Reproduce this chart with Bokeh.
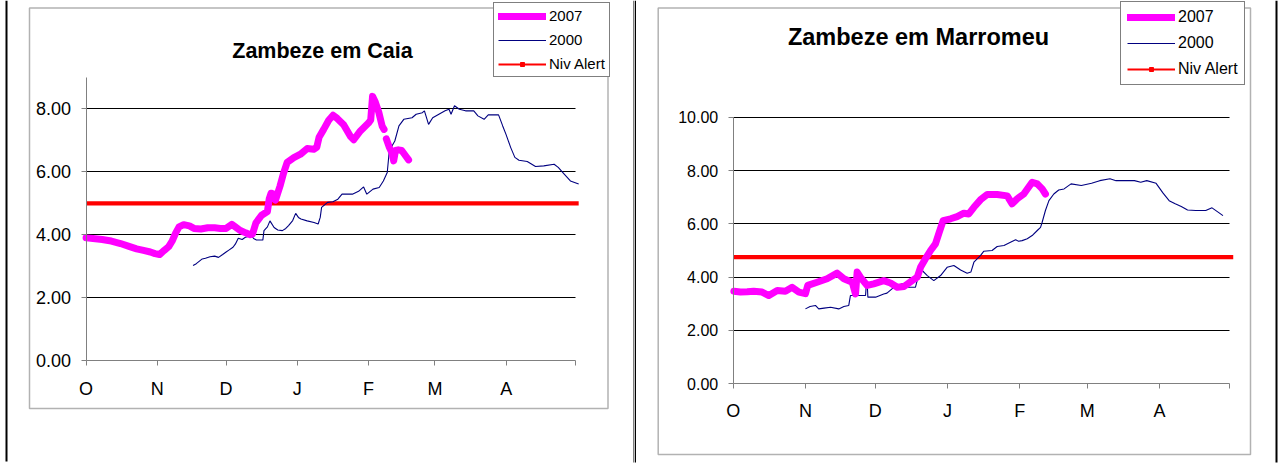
from bokeh.plotting import figure
from bokeh.models import (Range1d, FixedTicker, NumeralTickFormatter, Legend,
                          LegendItem, BoxAnnotation, Label)
from bokeh.layouts import row
from bokeh.embed import file_html
from bokeh.resources import INLINE

nan = float("nan")

# ---------------- data ----------------
month_ticks = [0, 31, 61, 92, 123, 152, 183, 213]
month_labels = ["O", "N", "D", "J", "F", "M", "A", ""]
series_names = ["2007", "2000", "Niv Alert"]

caia_2007_day = [0, 3, 7, 11, 15, 19, 22, 25, 28, 30,
                 32, 34, 36, 37.5, 39, 40.5, 42.5, 45, 47, 50,
                 53, 56, 58.5, 61, 63.5, 65, 67, 69.5, 71.5, 72.5,
                 74, 76.5, 79, 79.8, 80.6, 81.5, 82.5, 84.5, 86, 87.6,
                 90.5, 93.4, 96.3, 99.2, 100.5, 101.5, 103.5, 105.7, 107.6, 109.4,
                 112.2, 115.2, 116.6, 119.5, 123, 124, 124.8, 126, 127.5, 129,
                 129.8, nan, 130.8, 132, 133.3, 134, 134.8, 136, 137.5, 139.5,
                 140.5]
caia_2007_val = [3.90, 3.88, 3.85, 3.80, 3.72, 3.62, 3.55, 3.50, 3.45, 3.40,
                 3.37, 3.50, 3.62, 3.80, 4.05, 4.25, 4.32, 4.28, 4.20, 4.18,
                 4.22, 4.22, 4.20, 4.20, 4.33, 4.25, 4.14, 4.06, 4.00, 4.02,
                 4.38, 4.62, 4.74, 5.15, 5.32, 5.30, 5.10, 5.55, 5.95, 6.30,
                 6.45, 6.56, 6.74, 6.72, 6.78, 7.10, 7.35, 7.64, 7.80, 7.70,
                 7.50, 7.12, 7.02, 7.30, 7.55, 7.65, 8.40, 8.22, 7.90, 7.45,
                 7.35, nan, 7.05, 6.80, 6.60, 6.35, 6.68, 6.70, 6.68, 6.48,
                 6.38]

caia_2000_day = [46.6, 48, 50.6, 52, 54, 56, 57.7, 59.5, 61, 62.2,
                 64, 65, 66.3, 68, 69.4, 72, 73, 74.2, 77, 77.5,
                 79, 80.1, 81.9, 83.5, 85.5, 87, 88.2, 90, 91.3, 92.5,
                 93.6, 96.3, 99.3, 101.1, 102, 102.6, 105.2, 107.5, 109.7, 111.5,
                 116, 118.7, 120.9, 122.3, 125, 127.7, 129.5, 131.2, 132.1, 134.5,
                 136.3, 138.4, 142, 143.8, 146.5, 147.4, 149.2, 151, 153.7, 156.4,
                 158.1, 159, 160.5, 162.6, 165.3, 168.9, 170.7, 173.4, 175.2, 179.7,
                 181.5, 182.9, 185, 186.8, 188.6, 192.2, 195.8, 199.4, 203.9, 205.7,
                 208.3, 211, 214.6]
caia_2000_val = [3.02, 3.08, 3.23, 3.25, 3.30, 3.32, 3.28, 3.37, 3.45, 3.51,
                 3.60, 3.70, 3.89, 3.85, 3.92, 3.97, 3.88, 3.83, 3.83, 4.13,
                 4.25, 4.44, 4.23, 4.15, 4.13, 4.20, 4.29, 4.45, 4.68, 4.55,
                 4.50, 4.44, 4.39, 4.34, 4.55, 4.87, 5.03, 5.05, 5.13, 5.29,
                 5.29, 5.38, 5.52, 5.29, 5.45, 5.50, 5.71, 5.98, 6.67, 6.98,
                 7.46, 7.67, 7.72, 7.83, 7.88, 7.94, 7.51, 7.72, 7.83, 7.94,
                 7.99, 7.83, 8.10, 7.99, 7.94, 7.94, 7.78, 7.67, 7.81, 7.81,
                 7.46, 7.20, 6.77, 6.46, 6.37, 6.33, 6.17, 6.19, 6.24, 6.14,
                 5.93, 5.71, 5.61]

marr_2007_day = [0.3, 3.1, 6, 8.8, 12.4, 15.3, 18.9, 22.4, 25.3, 28.2,
                 31, 32, 36, 40.3, 44.6, 47.5, 51.1, 52.5, 53.2, 54.6,
                 57.5, 60.3, 64.6, 67.5, 70.4, 73.3, 76.8, 79, 80.4, 82.5,
                 84.7, 86.8, 88.2, 90.1, 93.3, 96.1, 99, 101.1, 103.3, 106.1,
                 109, 113.3, 117.6, 119.7, 121.9, 124.7, 128.3, 130.5, 132.6, 134]
marr_2007_val = [3.47, 3.44, 3.45, 3.47, 3.44, 3.31, 3.50, 3.47, 3.62, 3.44,
                 3.38, 3.69, 3.81, 3.94, 4.15, 3.94, 3.81, 3.37, 4.19, 4.00,
                 3.69, 3.75, 3.87, 3.78, 3.62, 3.65, 3.87, 4.00, 4.37, 4.69,
                 5.00, 5.25, 5.62, 6.12, 6.19, 6.27, 6.40, 6.37, 6.62, 6.90,
                 7.10, 7.10, 7.05, 6.75, 6.94, 7.12, 7.56, 7.50, 7.31, 7.12]

marr_2000_day = [31, 33, 35.3, 36.7, 39, 41.8, 45.3, 47.5, 49.6, 50.3,
                 53, 56.8, 57.2, 57.5, 57.8, 61.1, 64.6, 66, 68.9, 72.5,
                 74.7, 78.2, 79.7, 81.1, 83.3, 86.1, 89, 91.8, 94.7, 97.6,
                 100.4, 102, 103.3, 106.1, 107.5, 111.1, 113.3, 116.2, 119, 121.2,
                 122.5, 124, 126.2, 128.3, 130.5, 131.9, 132.6, 134, 135.5, 137.6,
                 139.7, 142, 145, 149.4, 153.8, 157.3, 161.7, 164.3, 172.2, 174.9,
                 177.5, 181.5, 184.5, 187.1, 189.7, 192.3, 195, 198.5, 202.8, 205.5,
                 208.1, 210.2]
marr_2000_val = [2.81, 2.90, 2.94, 2.81, 2.84, 2.87, 2.81, 2.90, 2.94, 3.31,
                 3.31, 3.31, 3.81, 3.81, 3.25, 3.25, 3.37, 3.40, 3.62, 3.75,
                 3.62, 3.62, 4.12, 4.25, 4.06, 3.87, 4.06, 4.37, 4.44, 4.27,
                 4.15, 4.19, 4.56, 4.81, 4.97, 5.00, 5.15, 5.19, 5.31, 5.40,
                 5.35, 5.37, 5.44, 5.56, 5.75, 5.87, 6.06, 6.50, 6.87, 7.12,
                 7.27, 7.31, 7.50, 7.44, 7.52, 7.62, 7.69, 7.62, 7.62, 7.56,
                 7.62, 7.52, 7.15, 6.87, 6.75, 6.65, 6.52, 6.50, 6.50, 6.60,
                 6.44, 6.31]

caia_alert = 5.0
marr_alert = 4.75
alert_days = [0, 214.6]

caia_yticks = [0, 2, 4, 6, 8]
marr_yticks = [0, 2, 4, 6, 8, 10]

# ---------------- drawing ----------------
FONT = "Liberation Sans"
H = 463          # canvas height (page has no margin in Bokeh's template)
PAGE_Y0 = 0


def make_panel(title, d07, v07, d00, v00, alert, yticks, ymax, g):
    W, ox = g["W"], g["ox"]
    ppd = (g["ax_x1"] - g["ax_x0"]) / 213.0
    x0 = -(g["ax_x0"] - ox) / ppd
    ppv = (g["ax_y0"] - g["ax_ytop"]) / ymax
    y0 = -(PAGE_Y0 + H - g["ax_y0"]) / ppv

    def sx(px):
        return px - ox

    def sy(py):
        return PAGE_Y0 + H - py

    p = figure(width=W, height=H, output_backend="svg", toolbar_location=None,
               x_range=Range1d(x0, x0 + W / ppd), y_range=Range1d(y0, y0 + H / ppv),
               min_border=0, min_border_left=0, min_border_right=0,
               min_border_top=0, min_border_bottom=0)
    p.outline_line_color = None
    p.background_fill_color = "white"
    p.border_fill_color = "white"
    p.xgrid.visible = False

    # axes drawn inside the frame at the data origin
    p.xaxis.fixed_location = 0
    p.yaxis.fixed_location = 0
    p.xaxis.bounds = (0, 213)
    p.yaxis.bounds = (0, ymax)
    p.xaxis.ticker = FixedTicker(ticks=month_ticks)
    p.xaxis.major_label_overrides = {t: l for t, l in zip(month_ticks, month_labels)}
    p.xaxis.major_label_standoff = g["xstand"]
    p.xaxis.major_label_text_font_size = g["xfs"]
    p.yaxis.ticker = FixedTicker(ticks=yticks)
    p.yaxis.formatter = NumeralTickFormatter(format="0.00")
    p.yaxis.major_label_standoff = 10
    p.yaxis.major_label_text_font_size = g["yfs"]
    for ax in p.axis:
        ax.axis_line_color = "#808080"
        ax.axis_line_width = 1
        ax.major_tick_line_color = "#808080"
        ax.major_tick_in = 0
        ax.major_tick_out = 5
        ax.minor_tick_line_color = None
        ax.major_label_text_font = FONT
        ax.major_label_text_color = "black"

    # horizontal gridlines between day 0 and the last month boundary
    p.ygrid.ticker = FixedTicker(ticks=[t for t in yticks if t > 0])
    p.ygrid.grid_line_color = "black"
    p.ygrid.grid_line_width = 1
    try:
        p.ygrid.cross_bounds = (0, 213)
    except Exception:
        p.ygrid.visible = False
        gy = [t for t in yticks if t > 0]
        p.segment(x0=[0] * len(gy), x1=[213] * len(gy), y0=gy, y1=gy,
                  line_color="black", line_width=1)

    p.line(alert_days, [alert] * len(alert_days), line_color="#FF0000", line_width=4.3)
    p.line(d00, v00, line_color="#000080", line_width=1.1)
    p.line(d07, v07, line_color="#FF00FF", line_width=7,
           line_cap="round", line_join="round")

    # legend-only glyphs (single undefined point, never drawn in the plot)
    g07 = p.line([nan], [nan], line_color="#FF00FF", line_width=7, line_cap="round")
    g00 = p.line([nan], [nan], line_color="#000080", line_width=1.2)
    gal = p.line([nan], [nan], line_color="#FF0000", line_width=2)
    gam = p.scatter([nan], [nan], marker="square", color="#FF0000", size=4)
    legend = Legend(items=[LegendItem(label=series_names[0], renderers=[g07]),
                           LegendItem(label=series_names[1], renderers=[g00]),
                           LegendItem(label=series_names[2], renderers=[gal, gam])],
                    location=(sx(g["leg_left"]), sy(g["leg_bottom"])),
                    orientation="vertical",
                    border_line_color="black", border_line_width=1,
                    background_fill_color="white", background_fill_alpha=1,
                    padding=g["lpad"], spacing=g["lsp"], margin=0,
                    glyph_width=g["gw"], glyph_height=10,
                    label_height=g["gh"], label_standoff=3,
                    label_text_font=FONT, label_text_font_size=g["lfs"],
                    label_text_color="black")
    p.add_layout(legend)

    p.add_layout(Label(x=sx(g["tx"]), y=sy(g["ty"]), x_units="screen", y_units="screen",
                       text=title, text_font=FONT, text_font_style="bold",
                       text_font_size=g["tfs"], text_align="center",
                       text_baseline="middle", text_color="black"))

    # chart border
    l, r, t, b = g["box"]
    p.add_layout(BoxAnnotation(left=sx(l), right=sx(r), top=sy(t), bottom=sy(b),
                               left_units="screen", right_units="screen",
                               top_units="screen", bottom_units="screen",
                               fill_alpha=0, line_color="black", line_width=1.5,
                               level="underlay"))
    # page frame lines
    for (fl, fr, fb) in g["frames"]:
        p.add_layout(BoxAnnotation(left=sx(fl), right=sx(fr), top=H, bottom=sy(fb),
                                   left_units="screen", right_units="screen",
                                   top_units="screen", bottom_units="screen",
                                   fill_color="black", fill_alpha=1, line_color=None,
                                   level="underlay"))
    return p


geo_caia = dict(W=634, ox=0, ax_x0=85.6, ax_x1=574.5, ax_y0=360, ax_ytop=77,
                xstand=13, xfs="18px", yfs="18px",
                leg_left=493, leg_bottom=77, lpad=4, lsp=7, gw=48, gh=16, lfs="15px",
                tx=322, ty=50, tfs="21.5px",
                box=(29, 607.5, 7.5, 408), frames=[(5, 7, 461), (633, 634, 462)])
geo_marr = dict(W=644, ox=634, ax_x0=732.7, ax_x1=1229, ax_y0=383.3, ax_ytop=116.7,
                xstand=12, xfs="18px", yfs="16px",
                leg_left=1120, leg_bottom=85, lpad=6, lsp=8, gw=48, gh=17, lfs="16px",
                tx=918, ty=36, tfs="23.5px",
                box=(657.7, 1250, 7.5, 454), frames=[(634, 635.5, 462), (1275, 1277, 462)])

p1 = make_panel("Zambeze em Caia", caia_2007_day, caia_2007_val,
                caia_2000_day, caia_2000_val, caia_alert, caia_yticks, 9, geo_caia)
p2 = make_panel("Zambeze em Marromeu", marr_2007_day, marr_2007_val,
                marr_2000_day, marr_2000_val, marr_alert, marr_yticks, 10, geo_marr)

layout = row(p1, p2)
open("out.html", "w").write(file_html(layout, INLINE))
